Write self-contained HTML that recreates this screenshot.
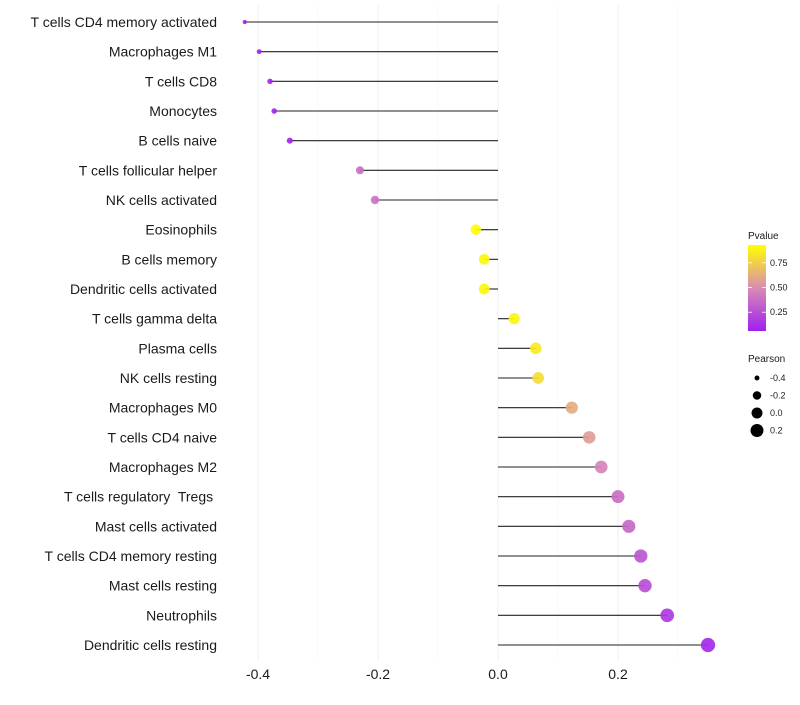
<!DOCTYPE html>
<html><head><meta charset="utf-8"><style>
body{margin:0;background:#fff;font-family:"Liberation Sans",sans-serif}
text{white-space:pre}
</style></head><body>
<svg id="chart" width="800" height="700" xmlns="http://www.w3.org/2000/svg">
<defs><linearGradient id="pg" x1="0" y1="1" x2="0" y2="0">
<stop offset="0" stop-color="#A020F0"/><stop offset="0.5" stop-color="#D98CB3"/><stop offset="1" stop-color="#FFFF00"/></linearGradient></defs>
<g id="grid"></g><g id="marks"></g><g id="labels"></g><g id="legend"></g>
</svg>
<script>
const categories=["T cells CD4 memory activated","Macrophages M1","T cells CD8","Monocytes","B cells naive","T cells follicular helper","NK cells activated","Eosinophils","B cells memory","Dendritic cells activated","T cells gamma delta","Plasma cells","NK cells resting","Macrophages M0","T cells CD4 naive","Macrophages M2","T cells regulatory  Tregs ","Mast cells activated","T cells CD4 memory resting","Mast cells resting","Neutrophils","Dendritic cells resting"];
const pearson=[-0.422,-0.398,-0.38,-0.373,-0.347,-0.23,-0.205,-0.037,-0.023,-0.023,0.027,0.063,0.067,0.123,0.152,0.172,0.2,0.218,0.238,0.245,0.282,0.35];
const pvalue=[0.07,0.08,0.08,0.08,0.08,0.38,0.4,0.92,0.9,0.9,0.9,0.85,0.8,0.62,0.56,0.47,0.38,0.35,0.28,0.25,0.17,0.1];
const xTicks=[-0.4,-0.2,0.0,0.2];
const xTickLabels=["-0.4","-0.2","0.0","0.2"];
const xMinor=[-0.3,-0.1,0.1,0.3];
const sizeLegend=[-0.4,-0.2,0.0,0.2];
const sizeLegendLabels=["-0.4","-0.2","0.0","0.2"];
const colorLegend=[0.25,0.5,0.75];
const colorLegendLabels=["0.25","0.50","0.75"];
const NS="http://www.w3.org/2000/svg";
const X=v=>498+v*600;
const Y=i=>22+i*(623/21);
const R=v=>Math.sqrt(Math.max(2,30+60*v));
const pMin=0.06,pMax=0.93;
function lerp(a,b,t){return a.map((x,i)=>Math.round(x+(b[i]-x)*t));}
function col(p){let t=(p-pMin)/(pMax-pMin);t=Math.max(0,Math.min(1,t));
const a=[160,32,240],m=[217,140,179],b=[255,255,0];
const c=t<0.5?lerp(a,m,t*2):lerp(m,b,(t-0.5)*2);return `rgb(${c})`;}
function mk(tag,at,parent){const e=document.createElementNS(NS,tag);for(const k in at)e.setAttribute(k,at[k]);document.getElementById(parent).appendChild(e);return e;}
xMinor.forEach(v=>{const l=mk('line',{x1:X(v),x2:X(v),y1:5,y2:660,stroke:'#f5f5f5','stroke-width':0.6},'grid');

});
xTicks.forEach((v,i)=>{const l=mk('line',{x1:X(v),x2:X(v),y1:5,y2:660,stroke:'#efefef','stroke-width':1},'grid');


const t=mk('text',{x:X(v),y:679,'text-anchor':'middle','font-size':14,fill:'#1a1a1a'},'labels');t.textContent=xTickLabels[i];

});
categories.forEach((c,i)=>{const y=Y(i);
const t=mk('text',{x:217,y:y+5,'text-anchor':'end','font-size':14,fill:'#1a1a1a'},'labels');t.textContent=c;


const s=mk('line',{x1:X(0),x2:X(pearson[i]),y1:y,y2:y,stroke:'#222','stroke-width':1.1},'marks');


const p=mk('circle',{cx:X(pearson[i]),cy:y,r:R(pearson[i]),fill:col(pvalue[i]),'fill-opacity':0.92},'marks');

});
let t=mk('text',{x:748,y:239,'font-size':10,fill:'#1a1a1a'},'legend');t.textContent='Pvalue';


const cb=mk('rect',{x:748,y:245,width:18,height:86,fill:'url(#pg)'},'legend');


const CY=v=>331-(v-pMin)/(pMax-pMin)*86;
colorLegend.forEach((v,i)=>{mk('line',{x1:748,x2:752,y1:CY(v),y2:CY(v),stroke:'#fff','stroke-width':0.8},'legend');
mk('line',{x1:762,x2:766,y1:CY(v),y2:CY(v),stroke:'#fff','stroke-width':0.8},'legend');
const l=mk('text',{x:770,y:CY(v)+3,'font-size':9,fill:'#1a1a1a'},'legend');l.textContent=colorLegendLabels[i];

});
t=mk('text',{x:748,y:362,'font-size':10,fill:'#1a1a1a'},'legend');t.textContent='Pearson';


sizeLegend.forEach((v,i)=>{const y=378+i*17.5;
const c=mk('circle',{cx:757,cy:y,r:R(v),fill:'#000'},'legend');


const l=mk('text',{x:770,y:y+3,'font-size':9,fill:'#1a1a1a'},'legend');l.textContent=sizeLegendLabels[i];

});
</script>
</body></html>
